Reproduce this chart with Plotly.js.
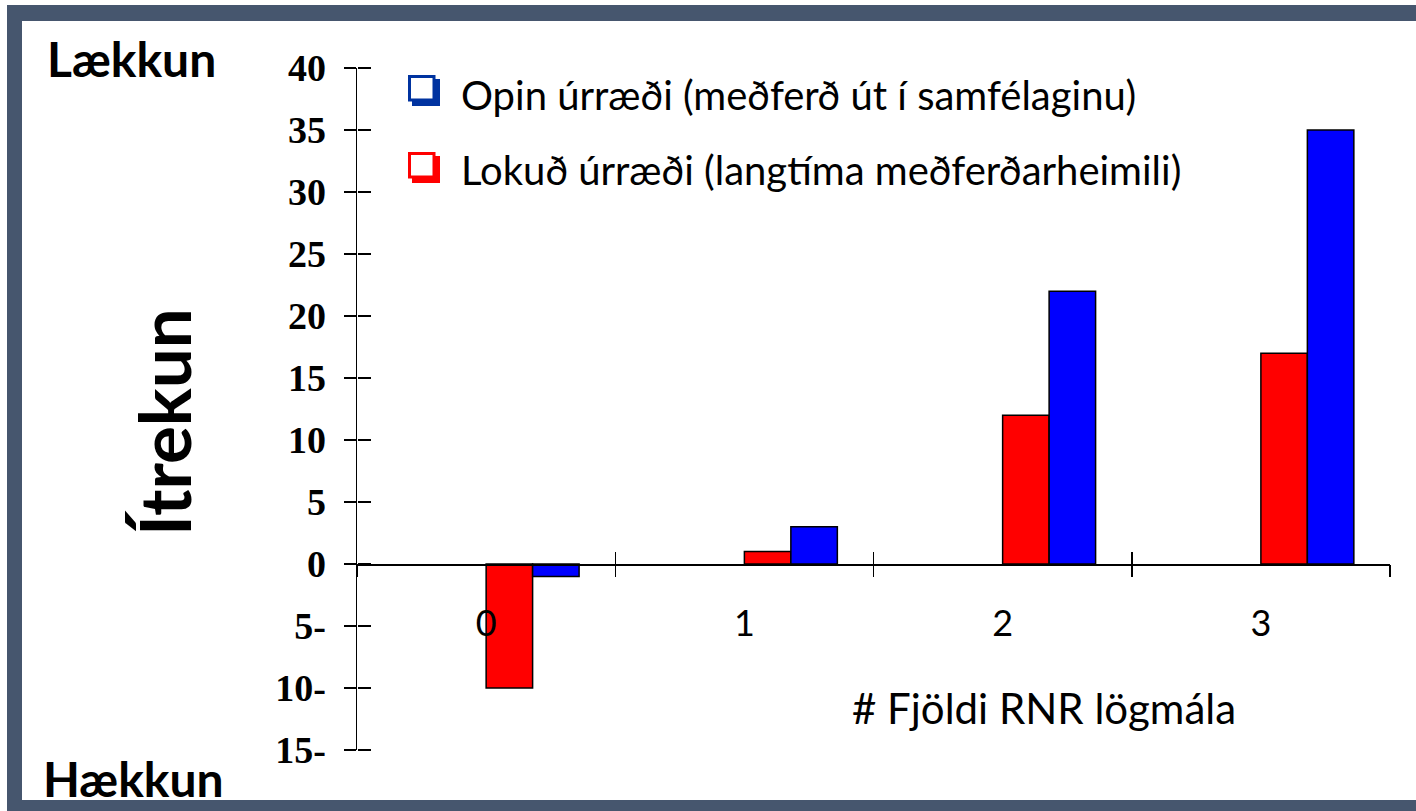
<!DOCTYPE html>
<html><head><meta charset="utf-8">
<script src="https://cdn.plot.ly/plotly-3.0.1.min.js"></script>
<style>
html,body{margin:0;padding:0;background:#fff;}
#frame{position:absolute;left:7px;top:5px;width:1409px;height:806px;background:#46566e;}
#inner{position:absolute;left:15px;top:16px;width:1394px;height:779px;background:#fff;}
#chart{position:absolute;left:0;top:0;width:1416px;height:811px;}
</style></head>
<body>
<div id="frame"><div id="inner"></div></div>
<div id="chart"></div>
<script>
const categories = [0, 1, 2, 3];
const categoryLabels = ['0', '1', '2', '3'];
const openValues = [-1, 3, 22, 35];     // Opin úrræði
const closedValues = [-10, 1, 12, 17];  // Lokuð úrræði
const yTickVals = [40, 35, 30, 25, 20, 15, 10, 5, 0, -5, -10, -15];
const yTickText = ['40', '35', '30', '25', '20', '15', '10', '5', '0', '5-', '10-', '15-'];
const boundaries = [-0.5, 0.5, 1.5, 2.5, 3.5];
const openName = 'Opin úrræði (meðferð út í samfélaginu)';
const closedName = 'Lokuð úrræði (langtíma meðferðarheimili)';
const openColor = '#0000ff', closedColor = '#ff0000';
const openLegendColor = '#0033a0', closedLegendColor = '#ff0000';

const M = {l: 357, r: 26, t: 68, b: 61};
const W = 1416, H = 811;
const pw = W - M.l - M.r, ph = H - M.t - M.b;
const px = v => (v - M.l) / pw;
const py = v => (H - M.b - v) / ph;

const zeroPos = 15 / 55;
const barW = 0.18;

const traces = [
  {type: 'bar', x: categories, y: closedValues, name: closedName, width: barW, offset: 0,
   marker: {color: closedColor, line: {color: '#000', width: 1.5}}, xaxis: 'x', yaxis: 'y'},
  {type: 'bar', x: categories, y: openValues, name: openName, width: barW, offset: barW,
   marker: {color: openColor, line: {color: '#000', width: 1.5}}, xaxis: 'x', yaxis: 'y'},
  // empty helpers so the overlay axes (tick marks) get drawn
  {type: 'scatter', x: [], y: [], xaxis: 'x2', yaxis: 'y', hoverinfo: 'skip'},
  {type: 'scatter', x: [], y: [], xaxis: 'x3', yaxis: 'y', hoverinfo: 'skip'},
  {type: 'scatter', x: [], y: [], xaxis: 'x', yaxis: 'y2', hoverinfo: 'skip'}
];

const serif = 'Liberation Serif, Times New Roman, serif';
const sans = 'Lato, Noto Sans, sans-serif';

function legendBox(x0, y0, color) {
  return [
    {type: 'rect', xref: 'paper', yref: 'paper', x0: px(x0 + 4), x1: px(x0 + 32), y0: py(y0 + 4), y1: py(y0 + 31),
     fillcolor: color, line: {width: 0}, layer: 'above'},
    {type: 'rect', xref: 'paper', yref: 'paper', x0: px(x0 + 1.5), x1: px(x0 + 26), y0: py(y0 + 1.5), y1: py(y0 + 25),
     fillcolor: '#fff', line: {color: color, width: 3}, layer: 'above'}
  ];
}

const layout = {
  width: W, height: H,
  margin: {l: M.l, r: M.r, t: M.t, b: M.b, pad: 0},
  paper_bgcolor: 'rgba(0,0,0,0)', plot_bgcolor: 'rgba(0,0,0,0)',
  showlegend: false, barmode: 'overlay',
  xaxis: {range: [-0.5, 3.5], anchor: 'free', position: zeroPos, showgrid: false, zeroline: false,
    showline: true, linecolor: '#000', linewidth: 1.5, ticks: '', tickmode: 'array',
    tickvals: categories, ticktext: categoryLabels, ticklabelstandoff: 27,
    tickfont: {family: sans, size: 36, color: '#000'}},
  xaxis2: {range: [-0.5, 3.5], overlaying: 'x', anchor: 'free', position: zeroPos, showgrid: false,
    zeroline: false, showline: false, ticks: 'outside', ticklen: 12, tickwidth: 1.5, tickcolor: '#000',
    tickmode: 'array', tickvals: boundaries, showticklabels: false},
  xaxis3: {range: [-0.5, 3.5], overlaying: 'x', anchor: 'free', position: zeroPos, showgrid: false,
    zeroline: false, showline: false, ticks: 'inside', ticklen: 12, tickwidth: 1.5, tickcolor: '#000',
    tickmode: 'array', tickvals: boundaries, showticklabels: false},
  yaxis: {range: [-15, 40], showgrid: false, zeroline: false, showline: true, linecolor: '#000',
    linewidth: 1.5, ticks: 'outside', ticklen: 12, tickwidth: 1.5, tickcolor: '#000',
    tickmode: 'array', tickvals: yTickVals, ticktext: yTickText, ticklabelstandoff: 10,
    tickfont: {family: serif, size: 38, color: '#000', weight: 'bold'}},
  yaxis2: {range: [-15, 40], overlaying: 'y', anchor: 'free', position: 0, side: 'right', showgrid: false,
    zeroline: false, showline: false, ticks: 'outside', ticklen: 13, tickwidth: 1.5, tickcolor: '#000',
    tickmode: 'array', tickvals: yTickVals, showticklabels: false},
  shapes: [...legendBox(408, 75, openLegendColor), ...legendBox(408, 152, closedLegendColor)],
  annotations: [
    {xref: 'paper', yref: 'paper', x: px(131), y: py(58), xanchor: 'center', yanchor: 'middle',
     text: '<b>Lækkun</b>', showarrow: false, font: {family: sans, size: 48, color: '#000'}},
    {xref: 'paper', yref: 'paper', x: px(133), y: py(778), xanchor: 'center', yanchor: 'middle',
     text: '<b>Hækkun</b>', showarrow: false, font: {family: sans, size: 48, color: '#000'}},
    {xref: 'paper', yref: 'paper', x: px(163), y: py(422), xanchor: 'center', yanchor: 'middle',
     text: '<b>Ítrekun</b>', textangle: -90, showarrow: false, font: {family: sans, size: 71, color: '#000'}},
    {xref: 'paper', yref: 'paper', x: px(1044), y: py(708), xanchor: 'center', yanchor: 'middle',
     text: '# Fjöldi RNR lögmála', showarrow: false, font: {family: sans, size: 42, color: '#000'}},
    {xref: 'paper', yref: 'paper', x: px(459), y: py(95), xanchor: 'left', yanchor: 'middle',
     text: openName, showarrow: false, font: {family: sans, size: 40, color: '#000'}},
    {xref: 'paper', yref: 'paper', x: px(459), y: py(170), xanchor: 'left', yanchor: 'middle',
     text: closedName, showarrow: false, font: {family: sans, size: 40, color: '#000'}}
  ]
};

Plotly.newPlot('chart', traces, layout, {displayModeBar: false, staticPlot: true});
</script>
</body></html>
